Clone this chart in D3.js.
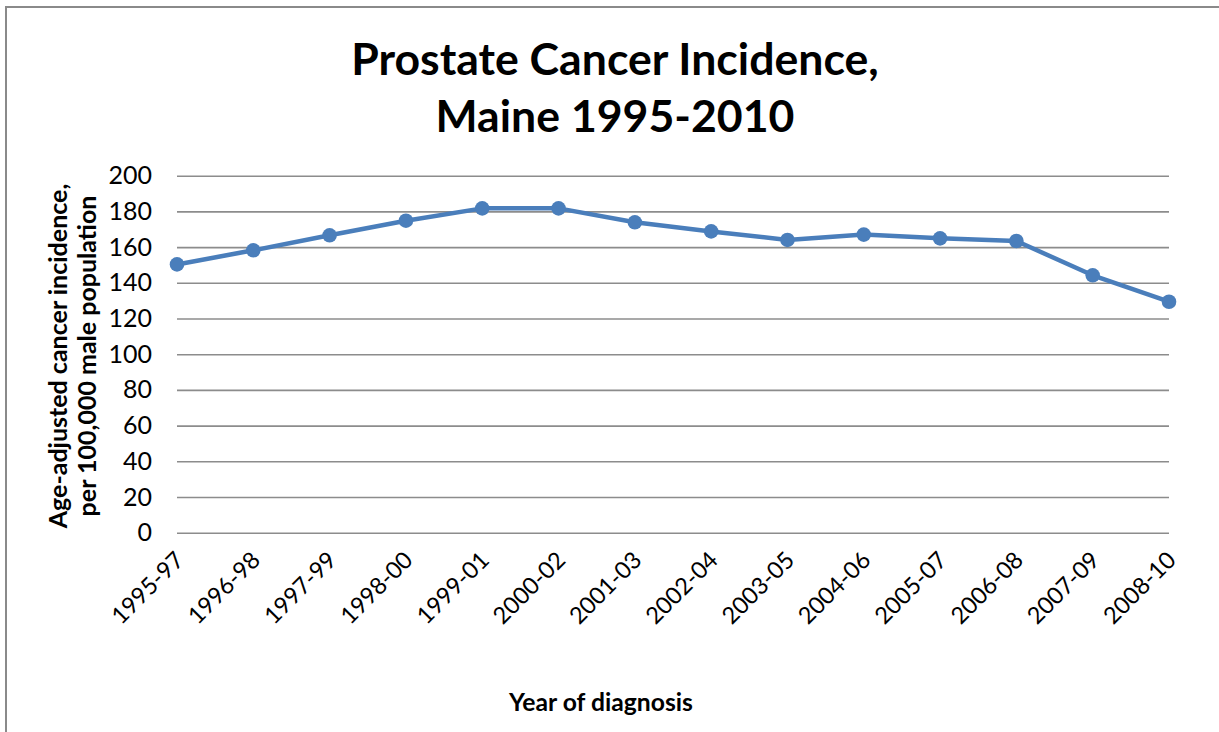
<!DOCTYPE html>
<html>
<head>
<meta charset="utf-8">
<script src="https://cdn.jsdelivr.net/npm/d3@7"></script>
<style>
  body { margin: 0; background: #fff; }
  svg text { font-family: Lato, "Open Sans", sans-serif; fill: #000; }
</style>
</head>
<body>
<svg id="chart" width="1219" height="732"></svg>
<script>
var periods = ['1995-97','1996-98','1997-99','1998-00','1999-01','2000-02','2001-03',
	'2002-04','2003-05','2004-06','2005-07','2006-08','2007-09','2008-10'];
var incidence = [150.3, 158.2, 166.6, 174.8, 181.7, 181.7, 173.9, 168.8, 164.0, 167.0, 164.9, 163.4, 144.2, 129.4];
var yTicks = [0, 20, 40, 60, 80, 100, 120, 140, 160, 180, 200];

var svg = d3.select('svg#chart');

// chart frame (only top & left edges visible in the crop)
svg.append('rect')
	.attr('x', 6).attr('y', 7)
	.attr('width', 1400).attr('height', 900)
	.attr('fill', 'none')
	.attr('stroke', '#8a8a8a')
	.attr('stroke-width', 2);

var x = d3.scalePoint().domain(periods).range([177, 1169]);
var y = d3.scaleLinear().domain([0, 200]).range([532.7, 175.7]);

// gridlines + y labels
var yAxis = d3.axisLeft(y).tickValues(yTicks).tickSize(-(1169 - 177)).tickPadding(25);
var gy = svg.append('g').attr('transform', 'translate(177,0)').call(yAxis);
gy.select('.domain').remove();
gy.selectAll('.tick line').attr('stroke', '#8c8c8c').attr('stroke-width', 1.6);
gy.selectAll('.tick text')
	.attr('font-size', 25)
	.style('font-family', 'Lato, sans-serif');

// category labels
var xAxis = d3.axisBottom(x).tickSize(0).tickPadding(0);
var gx = svg.append('g').attr('transform', 'translate(0,532.7)').call(xAxis);
gx.select('.domain').remove();
gx.selectAll('.tick text')
	.attr('font-size', 23.5)
	.style('font-family', 'Lato, sans-serif')
	.attr('text-anchor', 'end')
	.attr('dy', '0.35em')
	.attr('y', 0)
	.attr('transform', 'translate(2,23) rotate(-45)');

// series
var line = d3.line()
	.x(function(d, i) { return x(periods[i]); })
	.y(function(d) { return y(d); });

svg.append('path')
	.datum(incidence)
	.attr('d', line)
	.attr('fill', 'none')
	.attr('stroke', '#4a7ebb')
	.attr('stroke-width', 4.5)
	.attr('stroke-linejoin', 'round');

svg.append('g').selectAll('circle')
	.data(incidence)
	.enter()
		.append('circle')
		.attr('cx', function(d, i) { return x(periods[i]); })
		.attr('cy', function(d) { return y(d); })
		.attr('r', 7.3)
		.attr('fill', '#4a7ebb');

// titles
var title = svg.append('text')
	.attr('text-anchor', 'middle')
	.attr('font-size', 44.6)
	.attr('font-weight', 'bold');
title.append('tspan').attr('x', 615).attr('y', 75).text('Prostate Cancer Incidence,');
title.append('tspan').attr('x', 615).attr('y', 132).text('Maine 1995-2010');

var yTitle = svg.append('text')
	.attr('text-anchor', 'middle')
	.attr('font-size', 25)
	.attr('font-weight', 'bold')
	.attr('transform', 'translate(0,356) rotate(-90)');
yTitle.append('tspan').attr('x', 0).attr('y', 67).text('Age-adjusted cancer incidence,');
yTitle.append('tspan').attr('x', 0).attr('y', 96).text('per 100,000 male population');

svg.append('text')
	.attr('x', 601)
	.attr('y', 711)
	.attr('text-anchor', 'middle')
	.attr('font-size', 24.7)
	.attr('font-weight', 'bold')
	.text('Year of diagnosis');
</script>
</body>
</html>
